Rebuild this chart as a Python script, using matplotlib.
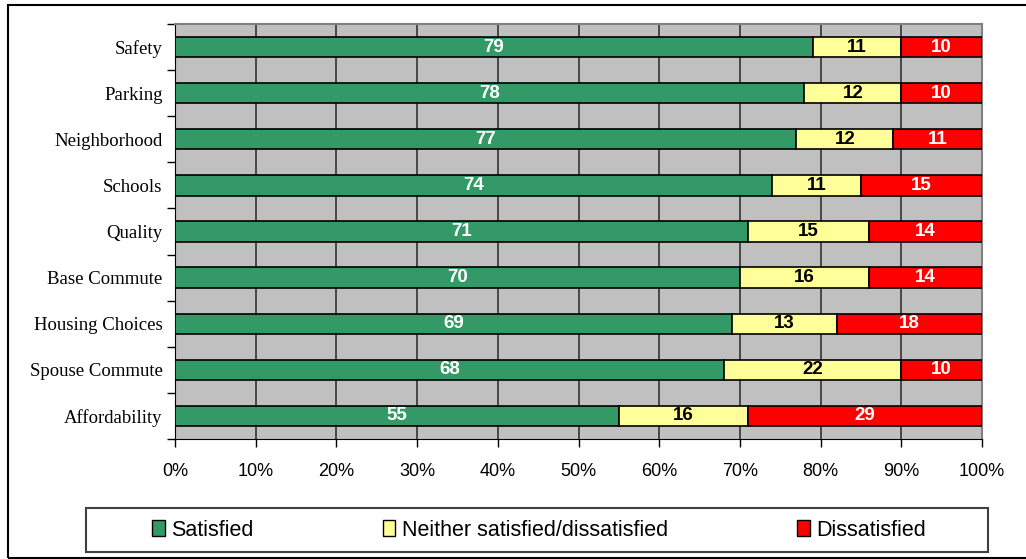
import matplotlib.pyplot as plt
import matplotlib.patches as mpatches
import numpy as np

# survey categories, top to bottom
categories = ['Safety', 'Parking', 'Neighborhood', 'Schools', 'Quality',
              'Base Commute', 'Housing Choices', 'Spouse Commute', 'Affordability']
satisfied = [79, 78, 77, 74, 71, 70, 69, 68, 55]
neither = [11, 12, 12, 11, 15, 16, 13, 22, 16]
dissatisfied = [10, 10, 11, 15, 14, 14, 18, 10, 29]

series_names = ['Satisfied', 'Neither satisfied/dissatisfied', 'Dissatisfied']
colors = ['#339966', '#FFFF99', '#FF0000']
text_colors = ['white', 'black', 'white']

fig = plt.figure(figsize=(10.26, 5.59), dpi=100)

# outer chart frame
fig.patches.append(mpatches.Rectangle((8 / 1026, 1 - 557.5 / 559), 1.2, 552.5 / 559,
                                      transform=fig.transFigure, fill=False,
                                      edgecolor='black', linewidth=1.5))

ax = fig.add_axes([175 / 1026, 1 - 439 / 559, (982 - 175) / 1026, (439 - 24) / 559])
ax.set_facecolor('#C0C0C0')

y = np.arange(len(categories))
left = np.zeros(len(categories))
for vals, col, tc, name in zip([satisfied, neither, dissatisfied], colors, text_colors, series_names):
    vals = np.array(vals, dtype=float)
    bars = ax.barh(y, vals, left=left, height=0.44, color=col, edgecolor='black',
                   linewidth=1.2, label=name, zorder=3)
    for b, v in zip(bars, vals):
        ax.text(b.get_x() + b.get_width() / 2, b.get_y() + b.get_height() / 2, f'{int(v)}',
                ha='center', va='center', color=tc, fontsize=13.5, fontweight='bold',
                family='Liberation Sans', zorder=4)
    left += vals

ax.set_xlim(0, 100)
ax.set_ylim(len(categories) - 0.5, -0.5)
ax.set_xticks(np.arange(0, 101, 10))
ax.set_xticklabels([f'{t}%' for t in range(0, 101, 10)], family='Liberation Sans', fontsize=13)
ax.xaxis.grid(True, color='#333333', linewidth=1.2, zorder=1)
ax.set_axisbelow(True)

ax.set_yticks(y)
ax.set_yticklabels(categories, family='Liberation Serif', fontsize=13.5)
ax.set_yticks(np.arange(-0.5, len(categories), 1), minor=True)
ax.tick_params(axis='y', which='major', length=0, pad=9)
ax.tick_params(axis='y', which='minor', length=6, direction='out', width=1)
ax.tick_params(axis='x', length=6, direction='out', width=1, pad=11)

for side in ['top', 'right']:
    ax.spines[side].set_color('#808080')
    ax.spines[side].set_linewidth(1.5)
ax.spines['left'].set_color('black')
ax.spines['bottom'].set_color('black')

# legend box
fig.patches.append(mpatches.Rectangle((86 / 1026, 1 - 552 / 559), 902 / 1026, 44 / 559,
                                      transform=fig.transFigure, facecolor='white',
                                      edgecolor='#404040', linewidth=1.5, zorder=5))
handles = [mpatches.Patch(facecolor=c, edgecolor='black', label=n) for c, n in zip(colors, series_names)]
leg = fig.legend(handles=handles, loc='center left', ncol=3,
                 bbox_to_anchor=(143 / 1026, 1 - 530 / 559),
                 frameon=False, prop={'family': 'Liberation Sans', 'size': 15.5},
                 handlelength=0.6, handleheight=0.7, handletextpad=0.3,
                 columnspacing=6.0, borderaxespad=0)
leg.set_zorder(6)

fig.savefig('out.png', dpi=100)
